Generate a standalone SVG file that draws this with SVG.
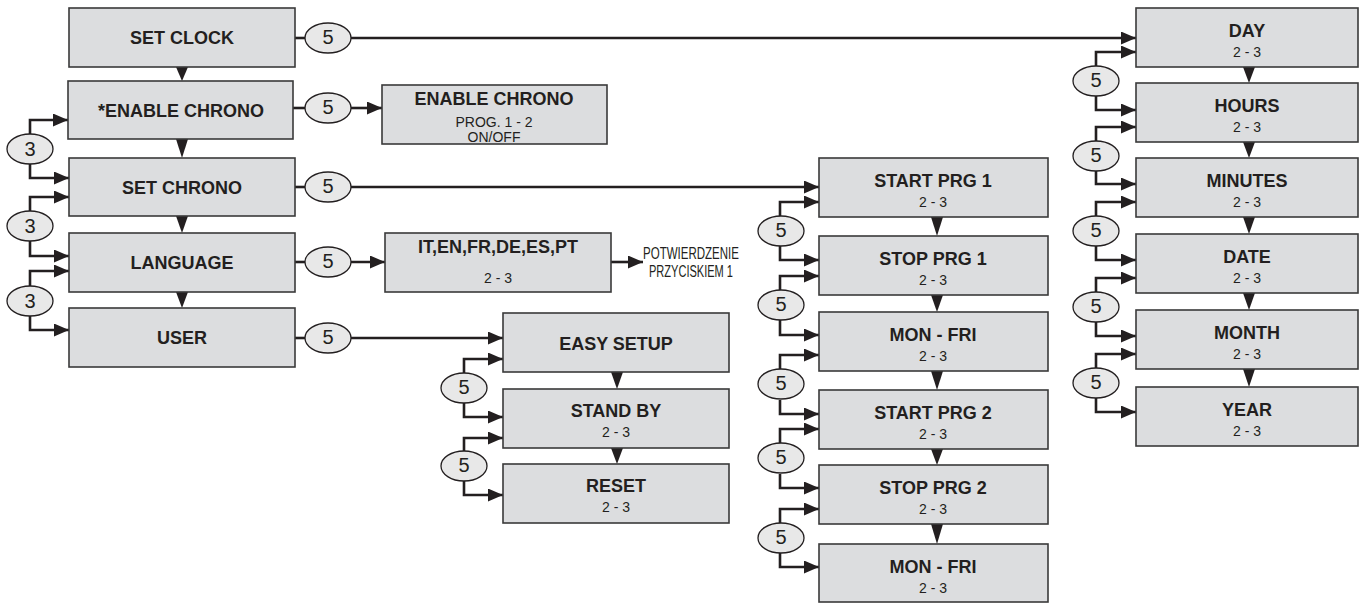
<svg xmlns="http://www.w3.org/2000/svg" width="1367" height="603" viewBox="0 0 1367 603">
<defs>
<marker id="ah" markerUnits="userSpaceOnUse" markerWidth="16" markerHeight="13" refX="15" refY="6.5" orient="auto">
<path d="M0,0 L15,6.5 L0,13 z" fill="#231f20"/>
</marker>
<style>
.box{fill:#dcdddf;stroke:#3a3a3a;stroke-width:1.6}
.ell{fill:#e8e8e8;stroke:#231f20;stroke-width:1.3}
.ln{fill:none;stroke:#231f20;stroke-width:2.6;marker-end:url(#ah)}
.pl{fill:none;stroke:#231f20;stroke-width:2.6}
.tri{fill:#231f20}
.t{font-family:"Liberation Sans",Arial,sans-serif;font-weight:bold;font-size:18px;fill:#231f20;text-anchor:middle}
.s{font-family:"Liberation Sans",Arial,sans-serif;font-size:14px;fill:#231f20;text-anchor:middle}
.n{font-family:"Liberation Sans",Arial,sans-serif;font-size:20px;fill:#231f20;text-anchor:middle}
.p{font-family:"Liberation Sans",Arial,sans-serif;font-size:16px;fill:#231f20;text-anchor:middle}
</style>
</defs>
<rect width="1367" height="603" fill="#ffffff"/>

<!-- connectors -->
<g id="connectors">
<polygon class="tri" points="176,67 188,67 182,81"/>
<polygon class="tri" points="176,139 188,139 182,158"/>
<polygon class="tri" points="176,216 188,216 182,233"/>
<polygon class="tri" points="176,292 188,292 182,308"/>
<path class="ln" d="M30,134 V120 H68"/>
<path class="ln" d="M30,164 V178 H69"/>
<path class="ln" d="M30,211 V197 H69"/>
<path class="ln" d="M30,241 V256 H69"/>
<path class="ln" d="M30,286 V271 H69"/>
<path class="ln" d="M30,316 V330 H69"/>
<path class="pl" d="M295,38 H305"/>
<path class="ln" d="M351,38 H1136"/>
<path class="pl" d="M293,108 H305"/>
<path class="ln" d="M351,108 H382"/>
<path class="pl" d="M295,187 H305"/>
<path class="ln" d="M351,187 H819"/>
<path class="pl" d="M295,262 H305"/>
<path class="ln" d="M351,262 H385"/>
<path class="pl" d="M295,338 H305"/>
<path class="ln" d="M351,338 H503"/>
<path class="ln" d="M611,262 H643"/>
<polygon class="tri" points="611,372 623,372 617,389"/>
<polygon class="tri" points="611,448 623,448 617,464"/>
<path class="ln" d="M464,373 V359 H503"/>
<path class="ln" d="M464,403 V417 H503"/>
<path class="ln" d="M464,452 V438 H503"/>
<path class="ln" d="M464,481 V495 H503"/>
<polygon class="tri" points="931,217 943,217 937,236"/>
<polygon class="tri" points="931,295 943,295 937,312"/>
<polygon class="tri" points="931,371 943,371 937,390"/>
<polygon class="tri" points="931,449 943,449 937,465"/>
<polygon class="tri" points="931,524 943,524 937,544"/>
<path class="ln" d="M780,216 V202 H819"/>
<path class="ln" d="M780,246 V260 H819"/>
<path class="ln" d="M780,290 V276 H819"/>
<path class="ln" d="M780,320 V335 H819"/>
<path class="ln" d="M780,369 V355 H819"/>
<path class="ln" d="M780,400 V414 H819"/>
<path class="ln" d="M780,443 V429 H819"/>
<path class="ln" d="M780,474 V488 H819"/>
<path class="ln" d="M780,523 V509 H819"/>
<path class="ln" d="M780,553 V567 H819"/>
<polygon class="tri" points="1243,67 1255,67 1249,83"/>
<polygon class="tri" points="1243,142 1255,142 1249,158"/>
<polygon class="tri" points="1243,217 1255,217 1249,234"/>
<polygon class="tri" points="1243,293 1255,293 1249,310"/>
<polygon class="tri" points="1243,369 1255,369 1249,387"/>
<path class="ln" d="M1096,66 V52 H1136"/>
<path class="ln" d="M1096,96 V110 H1136"/>
<path class="ln" d="M1096,141 V127 H1136"/>
<path class="ln" d="M1096,171 V184 H1136"/>
<path class="ln" d="M1096,216 V202 H1136"/>
<path class="ln" d="M1096,246 V260 H1136"/>
<path class="ln" d="M1096,292 V278 H1136"/>
<path class="ln" d="M1096,322 V336 H1136"/>
<path class="ln" d="M1096,368 V354 H1136"/>
<path class="ln" d="M1096,398 V412 H1136"/>
</g>

<g id="badges">
<ellipse class="ell" cx="30" cy="149" rx="23" ry="15"/><text class="n" x="30" y="156">3</text>
<ellipse class="ell" cx="30" cy="226" rx="23" ry="15"/><text class="n" x="30" y="233">3</text>
<ellipse class="ell" cx="30" cy="301" rx="23" ry="15"/><text class="n" x="30" y="308">3</text>
<ellipse class="ell" cx="328" cy="38" rx="23" ry="15"/><text class="n" x="328" y="44">5</text>
<ellipse class="ell" cx="328" cy="108" rx="23" ry="15"/><text class="n" x="328" y="114">5</text>
<ellipse class="ell" cx="328" cy="187" rx="23" ry="15"/><text class="n" x="328" y="193">5</text>
<ellipse class="ell" cx="328" cy="262" rx="23" ry="15"/><text class="n" x="328" y="268">5</text>
<ellipse class="ell" cx="328" cy="338" rx="23" ry="15"/><text class="n" x="328" y="344">5</text>
<ellipse class="ell" cx="464" cy="388" rx="23" ry="15"/><text class="n" x="464" y="394">5</text>
<ellipse class="ell" cx="464" cy="466" rx="23" ry="15"/><text class="n" x="464" y="472">5</text>
<ellipse class="ell" cx="781" cy="231" rx="23" ry="15"/><text class="n" x="781" y="237">5</text>
<ellipse class="ell" cx="781" cy="305" rx="23" ry="15"/><text class="n" x="781" y="311">5</text>
<ellipse class="ell" cx="781" cy="384" rx="23" ry="15"/><text class="n" x="781" y="390">5</text>
<ellipse class="ell" cx="781" cy="458" rx="23" ry="15"/><text class="n" x="781" y="464">5</text>
<ellipse class="ell" cx="781" cy="538" rx="23" ry="15"/><text class="n" x="781" y="544">5</text>
<ellipse class="ell" cx="1096" cy="81" rx="23" ry="15"/><text class="n" x="1096" y="87">5</text>
<ellipse class="ell" cx="1096" cy="156" rx="23" ry="15"/><text class="n" x="1096" y="162">5</text>
<ellipse class="ell" cx="1096" cy="231" rx="23" ry="15"/><text class="n" x="1096" y="237">5</text>
<ellipse class="ell" cx="1096" cy="307" rx="23" ry="15"/><text class="n" x="1096" y="313">5</text>
<ellipse class="ell" cx="1096" cy="383" rx="23" ry="15"/><text class="n" x="1096" y="389">5</text>
</g>

<g id="set-clock"><rect class="box" x="69" y="8" width="226" height="59"/><text class="t" x="182" y="44">SET CLOCK</text></g>
<g id="enable-chrono"><rect class="box" x="68" y="81" width="225" height="58"/><text class="t" x="181" y="117">*ENABLE CHRONO</text></g>
<g id="set-chrono"><rect class="box" x="69" y="158" width="226" height="58"/><text class="t" x="182" y="194">SET CHRONO</text></g>
<g id="language"><rect class="box" x="69" y="233" width="226" height="59"/><text class="t" x="182" y="269">LANGUAGE</text></g>
<g id="user"><rect class="box" x="69" y="308" width="226" height="59"/><text class="t" x="182" y="344">USER</text></g>

<g id="enable-chrono-sub"><rect class="box" x="382" y="85" width="225" height="59"/><text class="t" x="494" y="105">ENABLE CHRONO</text><text class="s" x="494" y="127">PROG. 1 - 2</text><text class="s" x="494" y="142">ON/OFF</text></g>
<g id="lang-sub"><rect class="box" x="385" y="233" width="226" height="59"/><text class="t" x="498" y="253">IT,EN,FR,DE,ES,PT</text><text class="s" x="498" y="283">2 - 3</text></g>
<g id="confirm"><text class="p" x="691" y="259" textLength="96" lengthAdjust="spacingAndGlyphs">POTWIERDZENIE</text><text class="p" x="691" y="277" textLength="84" lengthAdjust="spacingAndGlyphs">PRZYCISKIEM 1</text></g>

<g id="easy-setup"><rect class="box" x="503" y="313" width="226" height="59"/><text class="t" x="616" y="350">EASY SETUP</text></g>
<g id="stand-by"><rect class="box" x="503" y="389" width="226" height="59"/><text class="t" x="616" y="417">STAND BY</text><text class="s" x="616" y="437">2 - 3</text></g>
<g id="reset"><rect class="box" x="503" y="464" width="226" height="59"/><text class="t" x="616" y="492">RESET</text><text class="s" x="616" y="512">2 - 3</text></g>

<g id="start-prg1"><rect class="box" x="819" y="158" width="229" height="59"/><text class="t" x="933" y="187">START PRG 1</text><text class="s" x="933" y="207">2 - 3</text></g>
<g id="stop-prg1"><rect class="box" x="819" y="236" width="229" height="59"/><text class="t" x="933" y="265">STOP PRG 1</text><text class="s" x="933" y="285">2 - 3</text></g>
<g id="mon-fri1"><rect class="box" x="819" y="312" width="229" height="59"/><text class="t" x="933" y="341">MON - FRI</text><text class="s" x="933" y="361">2 - 3</text></g>
<g id="start-prg2"><rect class="box" x="819" y="390" width="229" height="59"/><text class="t" x="933" y="419">START PRG 2</text><text class="s" x="933" y="439">2 - 3</text></g>
<g id="stop-prg2"><rect class="box" x="819" y="465" width="229" height="59"/><text class="t" x="933" y="494">STOP PRG 2</text><text class="s" x="933" y="514">2 - 3</text></g>
<g id="mon-fri2"><rect class="box" x="819" y="544" width="229" height="58"/><text class="t" x="933" y="573">MON - FRI</text><text class="s" x="933" y="593">2 - 3</text></g>

<g id="day"><rect class="box" x="1136" y="8" width="222" height="59"/><text class="t" x="1247" y="37">DAY</text><text class="s" x="1247" y="57">2 - 3</text></g>
<g id="hours"><rect class="box" x="1136" y="83" width="222" height="59"/><text class="t" x="1247" y="112">HOURS</text><text class="s" x="1247" y="132">2 - 3</text></g>
<g id="minutes"><rect class="box" x="1136" y="158" width="222" height="59"/><text class="t" x="1247" y="187">MINUTES</text><text class="s" x="1247" y="207">2 - 3</text></g>
<g id="date"><rect class="box" x="1136" y="234" width="222" height="59"/><text class="t" x="1247" y="263">DATE</text><text class="s" x="1247" y="283">2 - 3</text></g>
<g id="month"><rect class="box" x="1136" y="310" width="222" height="59"/><text class="t" x="1247" y="339">MONTH</text><text class="s" x="1247" y="359">2 - 3</text></g>
<g id="year"><rect class="box" x="1136" y="387" width="222" height="59"/><text class="t" x="1247" y="416">YEAR</text><text class="s" x="1247" y="436">2 - 3</text></g>
</svg>
